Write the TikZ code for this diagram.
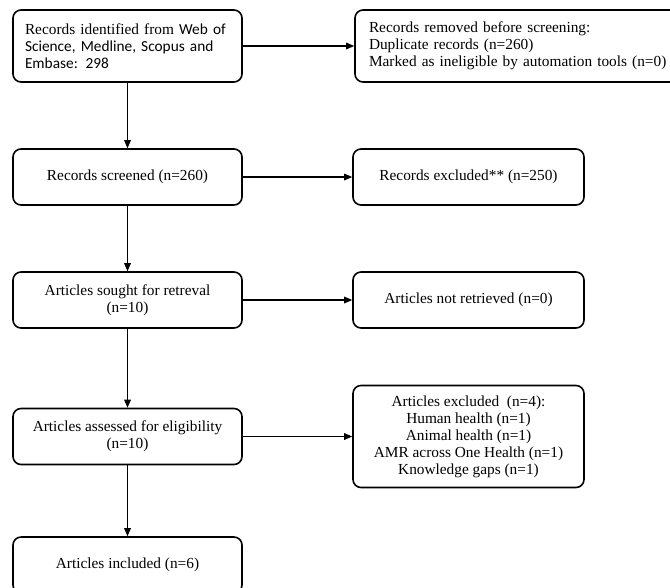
\documentclass[tikz,border=0pt]{standalone}
\usepackage{fontspec}
\setmainfont{Liberation Serif}
\newfontfamily\calib{Carlito}
\usetikzlibrary{arrows.meta}

\begin{document}
\begin{tikzpicture}[x=0.75pt, y=-0.75pt,
    font=\fontsize{11.5}{12.75}\selectfont,
    box/.style={draw, line width=1.2pt, rounded corners=6pt,
                inner sep=0pt, align=center,
                minimum width=171.75pt, minimum height=42pt},
    leftbox/.style={box, align=left, inner xsep=9pt},
    arr/.style={-{Triangle[length=6pt,width=5pt]}, line width=0.8pt}]
\useasboundingbox (0,0) rectangle (670,587);

\node[leftbox, text width=153.75pt, minimum height=54pt] (recid) at (127.5,46)
    {Records identified from {\calib Web of}\\
     {\calib Science, Medline, Scopus and}\\
     {\calib Embase: 298}};
\node[leftbox, text width=225pt, inner xsep=10.5pt, minimum height=54pt] (removed) at (519,46)
    {Records removed before screening:\\
     Duplicate records (n=260)\\
     Marked as ineligible by automation tools (n=0)};

\node[box] (screened) at (127.5,177) {Records screened (n=260)};
\node[box, minimum width=173.25pt] (recexcl) at (468.5,177) {Records excluded** (n=250)};

\node[box] (sought) at (127.5,300) {Articles sought for retreval\\(n=10)};
\node[box, minimum width=173.25pt] (notret) at (468.5,300) {Articles not retrieved (n=0)};

\node[box] (assessed) at (127.5,436.5) {Articles assessed for eligibility\\(n=10)};
\node[box, minimum width=173.25pt, minimum height=76.5pt] (artexcl) at (468.5,436.5)
    {Articles excluded \ (n=4):\\
     Human health (n=1)\\
     Animal health (n=1)\\
     AMR across One Health (n=1)\\
     Knowledge gaps (n=1)};

\node[box] (included) at (127.5,565) {Articles included (n=6)};

\draw[arr] (recid) -- (removed);
\draw[arr] (screened) -- (recexcl);
\draw[arr] (sought) -- (notret);
\draw[arr] (assessed) -- (artexcl);

\draw[arr] (recid) -- (screened);
\draw[arr] (screened) -- (sought);
\draw[arr] (sought) -- (assessed);
\draw[arr] (assessed) -- (included);
\end{tikzpicture}
\end{document}
